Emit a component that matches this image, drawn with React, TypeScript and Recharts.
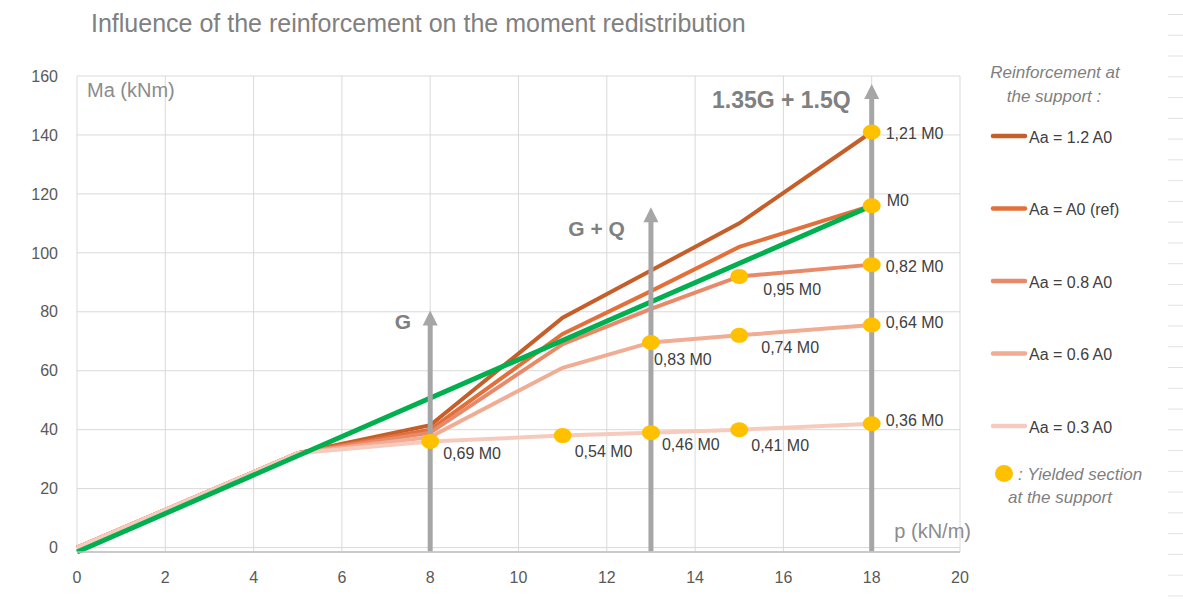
import {
  ComposedChart,
  Line,
  Scatter,
  XAxis,
  YAxis,
  CartesianGrid,
  ReferenceLine,
  Legend,
} from 'recharts';

// load p (kN/m) where the support moment curves change slope
const P = [0, 5, 8, 11, 13, 15, 18];
// support moment Ma (kNm) for each reinforcement ratio
const AA_12 = [0, 32, 41.5, 78, 94, 110, 141];
const AA_10 = [0, 32, 40, 72.5, 87, 102, 116];
const AA_08 = [0, 32, 39, 69, 81, 92, 96];
const AA_06 = [0, 32, 37.5, 61, 69.6, 72, 75.5];
const AA_03 = [0, 32, 36, 38, 39, 40, 42];

// elastic moment (no redistribution)
const ELASTIC_P = [0, 18];
const ELASTIC_M = [-1.5, 116];

// loads at which the support section has yielded, with the moment as a share of M0
const YIELD_03_P = [8, 11, 13, 15, 18];
const YIELD_03_TXT = ['0,69 M0', '0,54 M0', '0,46 M0', '0,41 M0', '0,36 M0'];
const YIELD_06_P = [13, 15, 18];
const YIELD_06_TXT = ['0,83 M0', '0,74 M0', '0,64 M0'];
const YIELD_08_P = [15, 18];
const YIELD_08_TXT = ['0,95 M0', '0,82 M0'];
const YIELD_10_P = [18];
const YIELD_10_TXT = ['M0'];
const YIELD_12_P = [18];
const YIELD_12_TXT = ['1,21 M0'];

// load cases shown as arrows
const LOAD_P = [8, 13, 18];
const LOAD_TOP = [80.4, 115.5, 157.3];
const LOAD_NAMES = ['G', 'G + Q', '1.35G + 1.5Q'];

const SERIES_NAMES = ['Aa = 1.2 A0', 'Aa = A0 (ref)', 'Aa = 0.8 A0', 'Aa = 0.6 A0', 'Aa = 0.3 A0'];
const X_TICKS = [0, 2, 4, 6, 8, 10, 12, 14, 16, 18, 20];
const Y_TICKS = [0, 20, 40, 60, 80, 100, 120, 140, 160];

const FONT = '"Liberation Sans", Arial, sans-serif';
const COLORS = ['#C55E28', '#E2703A', '#E8896A', '#F1AC94', '#F6CBBE'];
const GREEN = '#00B050';
const YELLOW = '#FFC000';
const ARROW = '#A6A6A6';

const series = [AA_12, AA_10, AA_08, AA_06, AA_03].map((vals, i) => ({
  name: SERIES_NAMES[i],
  color: COLORS[i],
  data: P.map((p, j) => ({ p, m: vals[j] })),
}));

const elastic = ELASTIC_P.map((p, i) => ({ p, m: ELASTIC_M[i] }));

const yieldSets: [number[], number[], string[]][] = [
  [AA_03, YIELD_03_P, YIELD_03_TXT],
  [AA_06, YIELD_06_P, YIELD_06_TXT],
  [AA_08, YIELD_08_P, YIELD_08_TXT],
  [AA_10, YIELD_10_P, YIELD_10_TXT],
  [AA_12, YIELD_12_P, YIELD_12_TXT],
];
const yielded = yieldSets.flatMap(([vals, ps, txts]) =>
  ps.map((p, i) => ({ p, m: vals[P.indexOf(p)], txt: txts[i] }))
);

// where each yield label sits relative to its dot
const LABEL_OFFSET: Record<string, [number, number]> = {
  '0,69 M0': [13, 18],
  '0,54 M0': [12, 21],
  '0,46 M0': [11, 17],
  '0,41 M0': [12, 21],
  '0,36 M0': [14, 2],
  '0,83 M0': [3, 23],
  '0,74 M0': [22, 18],
  '0,64 M0': [14, 3],
  '0,95 M0': [24, 19],
  '0,82 M0': [14, 7],
  M0: [15, 0],
  '1,21 M0': [14, 7],
};

const ARROW_TEXT = [
  { dx: -19, dy: 18, size: 21 },
  { dx: -26, dy: 29, size: 21 },
  { dx: -21, dy: 24, size: 23 },
];

function YieldDot(props: any) {
  const { cx, cy, payload } = props;
  const [dx, dy] = LABEL_OFFSET[payload.txt] ?? [14, 5];
  return (
    <g>
      <ellipse cx={cx} cy={cy} rx={9} ry={7.5} fill={YELLOW} />
      <text x={cx + dx} y={cy + dy} fontSize={16} fill="#404040" fontFamily={FONT}>
        {payload.txt}
      </text>
    </g>
  );
}

function LoadArrow(props: any, i: number) {
  const { x1, y1, y2 } = props;
  const top = Math.min(y1, y2);
  const bottom = Math.max(y1, y2);
  const t = ARROW_TEXT[i];
  return (
    <g>
      <line x1={x1} x2={x1} y1={bottom} y2={top + 12} stroke={ARROW} strokeWidth={5} />
      <polygon points={`${x1},${top} ${x1 - 7.5},${top + 15} ${x1 + 7.5},${top + 15}`} fill={ARROW} />
      <text
        x={x1 + t.dx}
        y={top + t.dy}
        textAnchor="end"
        fontSize={t.size}
        fontWeight="bold"
        fill="#808080"
        fontFamily={FONT}
      >
        {LOAD_NAMES[i]}
      </text>
    </g>
  );
}

function LegendBox() {
  return (
    <svg width={208} height={470} style={{ overflow: 'visible' }}>
      <g fontFamily={FONT} fontStyle="italic" fontSize={17} fill="#7F7F7F">
        <text x={80} y={28} textAnchor="middle">Reinforcement at</text>
        <text x={79} y={52} textAnchor="middle">the support  :</text>
      </g>
      {series.map((s, i) => {
        const y = 86 + i * 72.5;
        return (
          <g key={s.name}>
            <line x1={18} x2={50} y1={y} y2={y} stroke={s.color} strokeWidth={4.5} strokeLinecap="round" />
            <text x={54} y={y + 6.5} fontSize={16} fill="#404040" fontFamily={FONT}>
              {s.name}
            </text>
          </g>
        );
      })}
      <ellipse cx={29} cy={423.5} rx={9} ry={8.5} fill={YELLOW} />
      <g fontFamily={FONT} fontStyle="italic" fontSize={17} fill="#7F7F7F">
        <text x={43} y={430}>: Yielded section</text>
        <text x={33} y={453}>at the support</text>
      </g>
    </svg>
  );
}

function YLabel(props: any) {
  const { x, y, width } = props.viewBox;
  return (
    <text x={x + width + 10} y={y + 21} fontSize={20} fill="#8C8C8C" fontFamily={FONT}>
      Ma (kNm)
    </text>
  );
}

function XLabel(props: any) {
  const { x, y, width } = props.viewBox;
  return (
    <text x={x + width + 11} y={y - 14} textAnchor="end" fontSize={20} fill="#8C8C8C" fontFamily={FONT}>
      p (kN/m)
    </text>
  );
}

export default function App() {
  return (
    <div style={{ position: 'absolute', left: 0, top: 0, width: 1183, height: 605, background: '#fff' }}>
      <div
        style={{
          position: 'absolute',
          left: 91,
          top: 9,
          fontFamily: FONT,
          fontSize: 25,
          color: '#808080',
          whiteSpace: 'nowrap',
        }}
      >
        Influence of the reinforcement on the moment redistribution
      </div>
      <div
        style={{
          position: 'absolute',
          left: 1168,
          top: 0,
          width: 15,
          height: 605,
          backgroundImage: 'linear-gradient(to bottom, #E2E2E2 0, #E2E2E2 1px, transparent 1px)',
          backgroundSize: '15px 20.77px',
          backgroundPosition: '0 14px',
        }}
      />
      <ComposedChart
        width={1183}
        height={605}
        margin={{ top: 76, right: 223, bottom: 0, left: 0 }}
        style={{ fontFamily: FONT }}
      >
        <CartesianGrid stroke="#D9D9D9" strokeWidth={1} />
        <XAxis
          type="number"
          dataKey="p"
          domain={[0, 20]}
          ticks={X_TICKS}
          height={53}
          tickLine={false}
          tickSize={0}
          tickMargin={20}
          axisLine={{ stroke: '#BFBFBF', strokeWidth: 1.5 }}
          tick={{ fontSize: 16, fill: '#595959' }}
          label={XLabel}
        />
        <YAxis
          type="number"
          domain={[0, 160]}
          ticks={Y_TICKS}
          width={77}
          tickLine={false}
          tickSize={0}
          tickMargin={19}
          axisLine={false}
          tick={{ fontSize: 16, fill: '#595959' }}
          label={YLabel}
        />
        {series.map((s) => (
          <Line
            key={s.name}
            data={s.data}
            dataKey="m"
            name={s.name}
            type="linear"
            stroke={s.color}
            strokeWidth={4}
            dot={false}
            activeDot={false}
            isAnimationActive={false}
          />
        ))}
        <Line
          data={elastic}
          dataKey="m"
          name="M0"
          type="linear"
          stroke={GREEN}
          strokeWidth={5}
          dot={false}
          activeDot={false}
          isAnimationActive={false}
        />
        {LOAD_P.map((p, i) => (
          <ReferenceLine
            key={p}
            segment={[
              { x: p, y: -1.3 },
              { x: p, y: LOAD_TOP[i] },
            ]}
            ifOverflow="visible"
            shape={(props: any) => LoadArrow(props, i)}
          />
        ))}
        <Scatter data={yielded} dataKey="m" shape={YieldDot} isAnimationActive={false} />
        <Legend
          layout="vertical"
          align="center"
          verticalAlign="middle"
          content={LegendBox}
          wrapperStyle={{ left: 975, top: 50, width: 208, height: 470 }}
        />
      </ComposedChart>
    </div>
  );
}
